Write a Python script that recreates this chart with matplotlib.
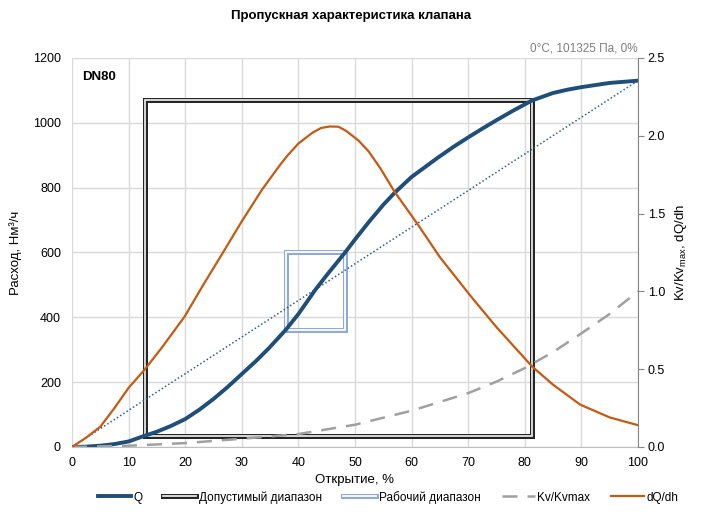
import matplotlib
matplotlib.use("Agg")
import matplotlib.pyplot as plt
import matplotlib.patheffects as pe

plt.rcParams['font.family'] = ['Liberation Sans', 'DejaVu Sans']
plt.rcParams['font.size'] = 9

# Flow Q (left axis, Nm3/h) vs opening %
q_x = [0, 2.5, 5, 7.5, 10, 12.9, 15, 17.5, 20, 22.5, 25, 27.5, 30, 32.5, 34.8, 37.75,
       40, 43, 45, 48.3, 50, 52.4, 55, 57, 60, 62.5, 64.6, 67.5, 70, 72.5, 75, 78,
       81.3, 85, 87.5, 90, 95, 100]
q_y = [0, 1, 4, 9, 17, 35, 47, 65, 86, 115, 148, 185, 225, 265, 305, 361,
       410, 485, 530, 601, 640, 693, 747, 784, 833, 865, 892, 927, 955, 982, 1008, 1038,
       1069, 1092, 1102, 1110, 1123, 1130]

# linear reference (dotted)
lin_x = [0, 100]
lin_y = [0, 1130]

# dQ/dh (right axis)
dq_x = [0, 2.5, 5, 7.5, 10, 12.9, 15.8, 19.9, 23, 26.6, 30, 33.6, 36.5, 38, 40, 42.5,
        44, 45.6, 47.1, 48.5, 50.6, 52.4, 54.5, 57, 61.1, 65, 70.5, 75, 81.3, 85, 89.8,
        95, 100]
dq_y = [0, 0.06, 0.13, 0.25, 0.38, 0.50, 0.635, 0.838, 1.03, 1.245, 1.45, 1.655, 1.80,
        1.87, 1.95, 2.02, 2.05, 2.06, 2.058, 2.03, 1.97, 1.90, 1.79, 1.64, 1.43, 1.22,
        0.967, 0.77, 0.517, 0.40, 0.272, 0.19, 0.14]

# Kv/Kvmax (right axis)
kv_x = [0, 10, 20, 30, 40, 50, 60, 70, 75, 80, 85, 90, 95, 100]
kv_y = [0, 0.008, 0.025, 0.053, 0.083, 0.143, 0.233, 0.346, 0.42, 0.507, 0.61, 0.73,
        0.855, 1.0]

# ranges: (x from, x to, Q from, Q to)
allowed = (12.9, 81.3, 35, 1070)
working = (37.75, 48.3, 361, 601)

fig = plt.figure(figsize=(7.03, 5.13), dpi=100)
ax = fig.add_axes([0.1024, 0.1287, 0.8051, 0.7583])
ax2 = ax.twinx()

ax.set_xlim(0, 100)
ax.set_ylim(0, 1200)
ax2.set_ylim(0, 2.5)
ax.set_xticks(range(0, 101, 10))
ax.set_yticks(range(0, 1201, 200))
ax2.set_yticks([0, 0.5, 1.0, 1.5, 2.0, 2.5])
ax2.set_yticklabels(['0.0', '0.5', '1.0', '1.5', '2.0', '2.5'])

ax.grid(True, color='#d9d9d9', lw=1)
ax.set_axisbelow(True)
for s in ['top', 'right', 'left']:
    ax.spines[s].set_visible(False)
ax.spines['bottom'].set_color('#bfbfbf')
for s in ['top', 'left', 'bottom']:
    ax2.spines[s].set_visible(False)
ax2.spines['right'].set_color('#868686')
ax.tick_params(axis='y', length=0, pad=8)
ax.tick_params(axis='x', length=0, pad=7)
ax2.tick_params(axis='y', length=4, color='#868686', direction='out', pad=3)


def box(a, rng, outer, inner, label):
    x0, x1, y0, y1 = rng
    ln, = a.plot([x0, x1, x1, x0, x0], [y0, y0, y1, y1, y0], color=inner, lw=1.3,
                 label=label, solid_joinstyle='miter',
                 path_effects=[pe.Stroke(linewidth=3.6, foreground=outer), pe.Normal()])
    return ln


h_allowed = box(ax, allowed, '#262626', '#e6e6e6', 'Допустимый диапазон')
h_work = box(ax, working, '#8eaadb', '#ffffff', 'Рабочий диапазон')

ax.plot(lin_x, lin_y, color='#2e5f8a', lw=1.1, ls=(0, (1, 1.5)))
h_q, = ax.plot(q_x, q_y, color='#1f4e79', lw=2.8, label='Q')

h_kv, = ax2.plot(kv_x, kv_y, color='#a0a0a0', lw=1.8, ls=(0, (6, 4)), label='Kv/Kvmax')
h_dq, = ax2.plot(dq_x, dq_y, color='#c55a11', lw=1.6, label='dQ/dh')

ax.set_xlabel('Открытие, %', fontsize=9.5, labelpad=4)
ax.set_ylabel('Расход, Нм³/ч', fontsize=9.5, labelpad=8)
ax2.set_ylabel(r'Kv/Kv$_{\mathregular{max}}$, dQ/dh', fontsize=9.5, labelpad=6)

ax.text(0.018, 0.951, 'DN80', transform=ax.transAxes, fontsize=9.5,
        fontweight='bold', va='center', ha='left')
fig.text(0.9075, 0.905, '0°C, 101325 Па, 0%', color='#7f7f7f', fontsize=8.5,
         ha='right', va='center')
fig.text(0.5, 0.968, 'Пропускная характеристика клапана', fontsize=9.5,
         fontweight='bold', ha='center', va='center')

fig.legend(handles=[h_q, h_allowed, h_work, h_kv, h_dq], loc='center',
           bbox_to_anchor=(0.552, 0.031), ncol=5, frameon=False, fontsize=8.5,
           handlelength=2.8, handletextpad=0.2, columnspacing=1.8)

fig.savefig('out.png', dpi=100)
